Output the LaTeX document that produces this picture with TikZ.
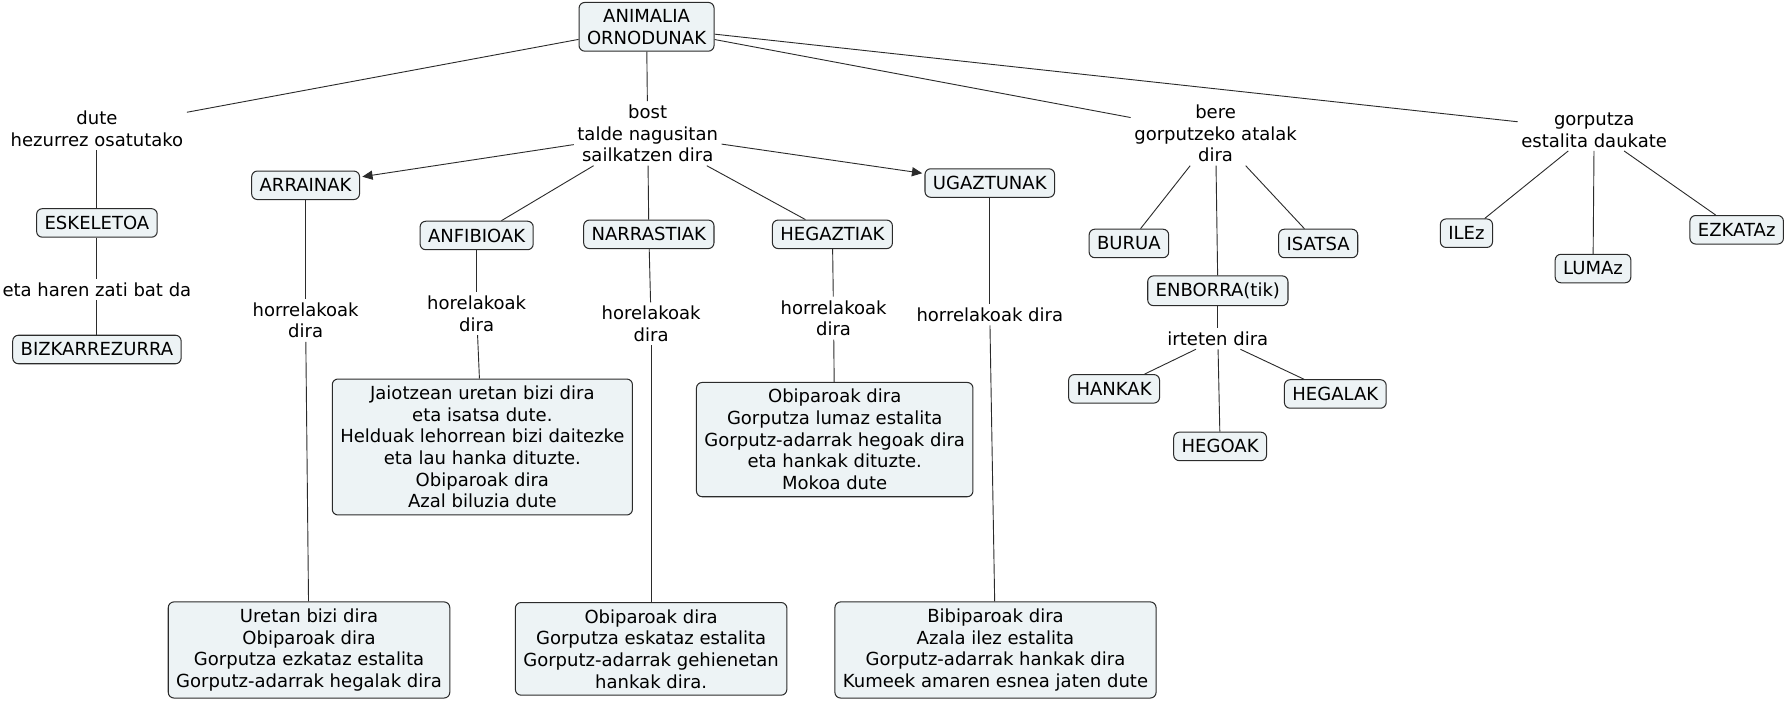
\documentclass[tikz,border=0pt]{standalone}
\usepackage{fontspec}
\setmainfont{DejaVu Sans}
\usepackage{xcolor}
\usetikzlibrary{arrows.meta,positioning}

\definecolor{boxfill}{HTML}{EDF3F5}
\definecolor{boxline}{HTML}{2B2B2B}

\tikzset{
	concept/.style={draw=boxline, fill=boxfill, rounded corners=5pt, line width=0.9pt,
		align=center, inner xsep=7pt, inner ysep=6pt, minimum height=25pt,
		font=\fontsize{15.8}{19}\selectfont},
	linking/.style={align=center, inner sep=3pt, font=\fontsize{15.8}{19}\selectfont},
	link/.style={draw=boxline, line width=0.8pt},
	linkarrow/.style={link, -{Triangle[length=9pt,width=8pt]}, shorten >=2pt}
}

\begin{document}
\begin{tikzpicture}[x=1pt,y=-1pt]
		\useasboundingbox (0,0) rectangle (1568,615);
		% gunea
		\node[concept] (root) at (567,23.5) {ANIMALIA\\ORNODUNAK};
		
		% lotura-hitzak
		\node[linking] (dute) at (85,113) {dute\\hezurrez osatutako};
		\node[linking] (bost) at (568,117) {bost\\talde nagusitan\\sailkatzen dira};
		\node[linking] (bere) at (1066,117) {bere\\gorputzeko atalak\\dira};
		\node[linking] (gorputza) at (1398,114) {gorputza\\estalita daukate};
		\node[linking] (zati) at (85,254) {eta haren zati bat da};
		\node[linking] (arrhorr) at (268,281) {horrelakoak\\dira};
		\node[linking] (anfhor) at (418,275) {horelakoak\\dira};
		\node[linking] (narhor) at (571,284) {horelakoak\\dira};
		\node[linking] (heghorr) at (731,279) {horrelakoak\\dira};
		\node[linking] (ughorr) at (868,276) {horrelakoak dira};
		\node[linking] (irteten) at (1068,297) {irteten dira};
		
		% kontzeptuak
		\node[concept] (esk) at (85,195.5) {ESKELETOA};
		\node[concept] (bizk) at (85,306.5) {BIZKARREZURRA};
		\node[concept] (arr) at (268,162.5) {ARRAINAK};
		\node[concept] (anf) at (418,206.5) {ANFIBIOAK};
		\node[concept] (nar) at (569,205.5) {NARRASTIAK};
		\node[concept] (heg) at (730,205.5) {HEGAZTIAK};
		\node[concept] (ugaz) at (868,160.5) {UGAZTUNAK};
		\node[concept] (buru) at (990,213.5) {BURUA};
		\node[concept] (isats) at (1156,213.5) {ISATSA};
		\node[concept] (enbor) at (1068,255) {ENBORRA(tik)};
		\node[concept] (hank) at (977,341) {HANKAK};
		\node[concept] (hegal) at (1171,345.5) {HEGALAK};
		\node[concept] (hego) at (1070,391.5) {HEGOAK};
		\node[concept] (ile) at (1286,204.5) {ILEz};
		\node[concept] (luma) at (1397,235.5) {LUMAz};
		\node[concept] (ezkat) at (1523,201.5) {EZKATAz};
		
		% deskribapenak
		\node[concept] (anfdesc) at (423,392) {Jaiotzean uretan bizi dira\\eta isatsa dute.\\Helduak lehorrean bizi daitezke\\eta lau hanka dituzte.\\Obiparoak dira\\Azal biluzia dute};
		\node[concept] (hegdesc) at (732,385.5) {Obiparoak dira\\Gorputza lumaz estalita\\Gorputz-adarrak hegoak dira\\eta hankak dituzte.\\Mokoa dute};
		\node[concept] (arrdesc) at (271,570) {Uretan bizi dira\\Obiparoak dira\\Gorputza ezkataz estalita\\Gorputz-adarrak hegalak dira};
		\node[concept] (nardesc) at (571,569) {Obiparoak dira\\Gorputza eskataz estalita\\Gorputz-adarrak gehienetan\\hankak dira.};
		\node[concept] (ugdesc) at (873,570) {Bibiparoak dira\\Azala ilez estalita\\Gorputz-adarrak hankak dira\\Kumeek amaren esnea jaten dute};
		
		% loturak
		\foreach \a/\b in {root/dute, root/bost, root/bere, root/gorputza,
			dute/esk, esk/zati, zati/bizk,
			bost/anf, bost/nar, bost/heg,
			arr/arrhorr, arrhorr/arrdesc, anf/anfhor, anfhor/anfdesc,
			nar/narhor, narhor/nardesc, heg/heghorr, heghorr/hegdesc,
			ugaz/ughorr, ughorr/ugdesc,
			bere/buru, bere/enbor, bere/isats,
			enbor/irteten, irteten/hank, irteten/hego, irteten/hegal,
			gorputza/ile, gorputza/luma, gorputza/ezkat}
		\draw[link] (\a) -- (\b);
		\draw[linkarrow] (bost) -- (arr);
		\draw[linkarrow] (bost) -- (ugaz);
\end{tikzpicture}
\end{document}
